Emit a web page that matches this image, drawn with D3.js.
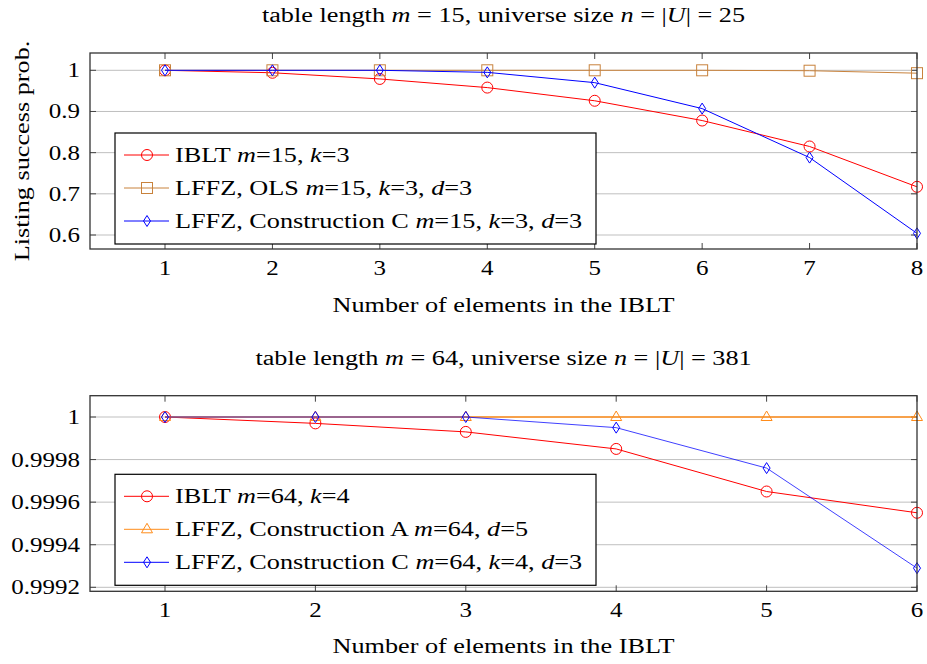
<!DOCTYPE html>
<html><head><meta charset="utf-8">
<script src="https://cdn.jsdelivr.net/npm/d3@7"></script>
<style>body{margin:0;background:#fff}svg text{font-family:"Liberation Serif","Times New Roman",serif}</style>
</head><body>
<svg id="c" width="927" height="664"></svg>
<script>
// ---- data ----
const xTop = [1,2,3,4,5,6,7,8];
const topIBLT = [1.0, 0.994, 0.979, 0.958, 0.926, 0.878, 0.815, 0.717];
const topOLS  = [1.0, 1.0, 1.0, 1.0, 1.0, 1.0, 0.999, 0.993];
const topConC = [1.0, 1.0, 1.0, 0.995, 0.970, 0.907, 0.788, 0.604];
const topYTicks = [0.6, 0.7, 0.8, 0.9, 1];

const xBot = [1,2,3,4,5,6];
const botIBLT = [1.0, 0.99997, 0.99993, 0.99985, 0.99965, 0.99955];
const botConA = [1.0, 1.0, 1.0, 1.0, 1.0, 1.0];
const botConC = [1.0, 1.0, 1.0, 0.99995, 0.99976, 0.99929];
const botYTicks = [0.9992, 0.9994, 0.9996, 0.9998, 1];

const RED = "#ff0000", BROWN = "#c8823c", ORANGE = "#ff8c1a", BLUE = "#0000ff";
const FS = 20.5, SX = 1.28;

const svg = d3.select("#c");

function txt(g, x, y, parts, opt){
  opt = opt || {};
  const sx = opt.sx || SX;
  const tr = `translate(${x},${y})` + (opt.rotate ? ` rotate(${opt.rotate})` : "") + ` scale(${sx},1)`;
  const t = g.append("text").attr("transform", tr).attr("x",0).attr("y",0)
    .attr("font-size", opt.size || FS).attr("fill","#000")
    .attr("text-anchor", opt.anchor || "start");
  if(typeof parts === "string") parts = [[parts]];
  parts.forEach(p=>{
    const s = t.append("tspan").text(p[0]);
    if(p[1]) s.attr("font-style","italic");
  });
  return t;
}

function marker(g, type, x, y, color){
  if(type==="circle"){
    g.append("circle").attr("cx",x).attr("cy",y).attr("r",5.5).attr("fill","none").attr("stroke",color).attr("stroke-width",1);
  } else if(type==="square"){
    g.append("rect").attr("x",x-5.5).attr("y",y-5.5).attr("width",11).attr("height",11).attr("fill","none").attr("stroke",color).attr("stroke-width",1);
  } else if(type==="diamond"){
    g.append("path").attr("d",`M${x},${y-5.5}L${x+3.5},${y}L${x},${y+5.5}L${x-3.5},${y}Z`).attr("fill","none").attr("stroke",color).attr("stroke-width",1);
  } else if(type==="triangle"){
    g.append("path").attr("d",`M${x},${y-6}L${x+5.5},${y+3.5}L${x-5.5},${y+3.5}Z`).attr("fill","none").attr("stroke",color).attr("stroke-width",1);
  }
}

function panel(cfg){
  const g = svg.append("g");
  const L=90, R=917, T=cfg.top, B=cfg.bottom;
  const x = d3.scaleLinear().domain([cfg.xs[0], cfg.xs[cfg.xs.length-1]]).range([165, 917]);
  const y = d3.scaleLinear().domain(cfg.yDom).range(cfg.yRange);

  // grid
  g.selectAll(".gy").data(cfg.yTicks).enter().append("line")
    .attr("x1",L).attr("x2",R).attr("y1",d=>y(d)).attr("y2",d=>y(d))
    .attr("stroke","#bfbfbf").attr("stroke-width",1);
  // ticks
  cfg.yTicks.forEach(v=>{
    g.append("line").attr("x1",L).attr("x2",L+6).attr("y1",y(v)).attr("y2",y(v)).attr("stroke","#444");
    g.append("line").attr("x1",R-6).attr("x2",R).attr("y1",y(v)).attr("y2",y(v)).attr("stroke","#444");
    txt(g, 80, y(v)+7, v===1 ? "1" : String(v), {anchor:"end", sx:1.22});
  });
  cfg.xs.forEach(v=>{
    g.append("line").attr("x1",x(v)).attr("x2",x(v)).attr("y1",T).attr("y2",T+6).attr("stroke","#444");
    g.append("line").attr("x1",x(v)).attr("x2",x(v)).attr("y1",B-6).attr("y2",B).attr("stroke","#444");
    txt(g, x(v), cfg.xTickY, String(v), {anchor:"middle", sx:1.22});
  });

  // series
  cfg.series.forEach(s=>{
    const line = d3.line().x((d,i)=>x(cfg.xs[i])).y(d=>y(d));
    g.append("path").attr("d",line(s.vals)).attr("fill","none").attr("stroke",s.color).attr("stroke-width",s.w||1).attr("stroke-opacity",s.op||1);
    s.vals.forEach((v,i)=>marker(g,s.marker,x(cfg.xs[i]),y(v),s.color));
  });

  // frame
  g.append("rect").attr("x",L).attr("y",T).attr("width",R-L).attr("height",B-T)
    .attr("fill","none").attr("stroke","#333").attr("stroke-width",1.3);

  // legend
  const lg = cfg.legend;
  g.append("rect").attr("x",lg.x).attr("y",lg.y).attr("width",lg.w).attr("height",lg.h)
    .attr("fill","#fff").attr("stroke","#000").attr("stroke-width",1.2);
  cfg.series.forEach((s,i)=>{
    const cy = lg.y + 22 + i*33;
    g.append("line").attr("x1",lg.x+9).attr("x2",lg.x+54).attr("y1",cy).attr("y2",cy).attr("stroke",s.color).attr("stroke-width",1);
    marker(g,s.marker,lg.x+32,cy,s.color);
    txt(g, lg.x+60, cy+7, s.label);
  });

  // title
  txt(g, (L+R)/2, cfg.titleY, cfg.title, {anchor:"middle"});
  // x label
  txt(g, (L+R)/2, cfg.xLabelY, "Number of elements in the IBLT", {anchor:"middle"});
  if(cfg.yLabel){
    txt(g, 29, (T+B)/2, cfg.yLabel, {anchor:"middle", rotate:-90});
  }
}

panel({
  top:53, bottom:249, xs:xTop, yDom:[0.6,1], yRange:[235,70.3], yTicks:topYTicks, xTickY:275,
  series:[
    {vals:topIBLT,color:RED,marker:"circle",label:[["IBLT "],["m",1],["=15, "],["k",1],["=3"]]},
    {vals:topOLS,color:BROWN,marker:"square",label:[["LFFZ, OLS "],["m",1],["=15, "],["k",1],["=3, "],["d",1],["=3"]]},
    {vals:topConC,color:BLUE,marker:"diamond",label:[["LFFZ, Construction C "],["m",1],["=15, "],["k",1],["=3, "],["d",1],["=3"]]}
  ],
  legend:{x:115,y:133,w:481,h:111},
  title:[["table length "],["m",1],[" = 15, universe size "],["n",1],[" = |"],["U",1],["| = 25"]],
  titleY:22, xLabelY:312, yLabel:"Listing success prob."
});

panel({
  top:395.7, bottom:591.3, xs:xBot, yDom:[0.9992,1], yRange:[587.3,417], yTicks:botYTicks, xTickY:617,
  series:[
    {vals:botIBLT,color:RED,marker:"circle",label:[["IBLT "],["m",1],["=64, "],["k",1],["=4"]]},
    {vals:botConA,color:ORANGE,marker:"triangle",w:1.6,label:[["LFFZ, Construction A "],["m",1],["=64, "],["d",1],["=5"]]},
    {vals:botConC,color:BLUE,marker:"diamond",op:0.75,label:[["LFFZ, Construction C "],["m",1],["=64, "],["k",1],["=4, "],["d",1],["=3"]]}
  ],
  legend:{x:115,y:474.3,w:481,h:111},
  title:[["table length "],["m",1],[" = 64, universe size "],["n",1],[" = |"],["U",1],["| = 381"]],
  titleY:365, xLabelY:653
});
</script>
</body></html>
